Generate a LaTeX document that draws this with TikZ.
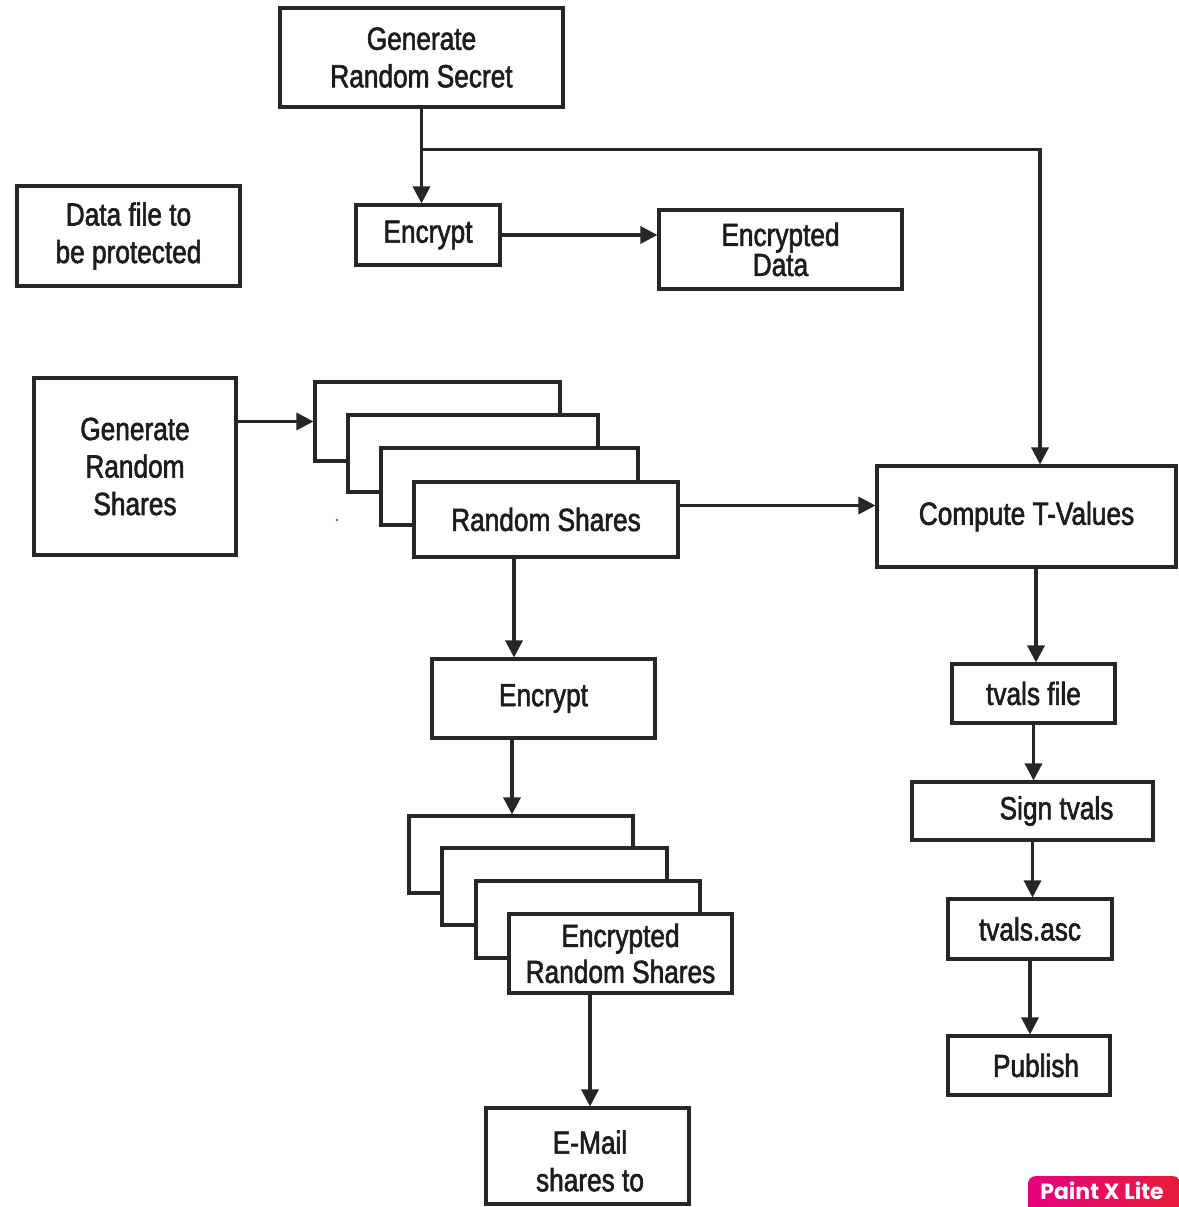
\documentclass[tikz,border=0pt]{standalone}
\usepackage{fontspec}
\setmainfont{Liberation Sans}[FakeStretch=0.82, FakeBold=1.8]
\newfontfamily\wmfont{Poppins}
\usetikzlibrary{arrows.meta}
\definecolor{ink}{HTML}{262626}
\definecolor{txt}{HTML}{1C1C1C}
\definecolor{wmA}{HTML}{E6007E}
\definecolor{wmB}{HTML}{EA1B3A}
\begin{document}
\begin{tikzpicture}[x=1pt, y=-1pt,
  box/.style={draw=ink, line width=3.1pt, fill=white, rectangle, inner sep=0pt,
    text=txt, align=center, font=\fontsize{32}{37.5}\selectfont},
  label text/.style={text=txt, align=center, inner sep=0pt, font=\fontsize{32}{37.5}\selectfont},
  arr/.style={draw=ink, line width=3.2pt, -{Triangle[length=17pt, width=17pt]}},
]
\useasboundingbox (0,0) rectangle (1178,1207);

% top row
\node[box, minimum width=283pt, minimum height=99pt] (gsec) at (421.5,57.5) {Generate\\Random Secret};
\node[box, minimum width=223pt, minimum height=100pt] (data) at (128.5,236) {Data file to\\be protected};
\node[box, minimum width=144pt, minimum height=60pt] (enc1) at (428,235) {Encrypt};
\node[box, minimum width=243pt, minimum height=79pt, font=\fontsize{32}{30}\selectfont] (encd) at (780.5,249.5) {Encrypted\\Data};

% share generation and stacked shares
\node[box, minimum width=202pt, minimum height=177pt] (gshr) at (135,466.5) {Generate\\Random\\Shares};
\node[box, minimum width=245pt, minimum height=79pt] (r1) at (437.5,421.5) {};
\node[box, minimum width=250pt, minimum height=77pt] (r2) at (473,453.5) {};
\node[box, minimum width=257pt, minimum height=77pt] (r3) at (509.5,486.5) {};
\node[box, minimum width=264pt, minimum height=75pt] (r4) at (546,519.5) {Random Shares};

\node[box, minimum width=299pt, minimum height=101pt] (ctv) at (1026.5,516.5) {Compute T-Values};

% encryption of the shares
\node[box, minimum width=223pt, minimum height=79pt] (enc2) at (543.5,698.5) {Encrypt};
\node[box, minimum width=224pt, minimum height=77pt] (s1) at (521,854.5) {};
\node[box, minimum width=225pt, minimum height=77pt] (s2) at (554.5,886.5) {};
\node[box, minimum width=224pt, minimum height=77pt] (s3) at (588,919.5) {};
\node[box, minimum width=223pt, minimum height=79pt, font=\fontsize{32}{36}\selectfont] (s4) at (620.5,953.5) {Encrypted\\Random Shares};
\node[box, minimum width=203pt, minimum height=96pt] (email) at (587.5,1156) {};
\node[label text] (emailtxt) at (590,1161) {E-Mail\\shares to};

% t-values column
\node[box, minimum width=163pt, minimum height=59pt] (tvf) at (1033.5,693.5) {tvals file};
\node[box, minimum width=241pt, minimum height=58pt] (sign) at (1032.5,811) {\hspace*{48pt}Sign tvals};
\node[box, minimum width=164pt, minimum height=60pt] (asc) at (1030,929) {tvals.asc};
\node[box, minimum width=162pt, minimum height=59pt] (pub) at (1029,1065.5) {\hspace*{14pt}Publish};

% connectors
\draw[arr] (gsec.south) -- (gsec.south |- enc1.north);
\coordinate (br) at ([yshift=-41pt]gsec.south);
\coordinate (ctvin) at ([xshift=13.5pt]ctv.north);
\draw[arr] (br) -| (ctvin);
\draw[arr] (enc1.east) -- (enc1.east -| encd.west);
\draw[arr] (gshr.east |- r1.west) -- (r1.west);
\coordinate (rsout) at ([yshift=14pt]r4.east);
\draw[arr] (rsout) -- (rsout -| ctv.west);
\coordinate (rsdown) at ([xshift=-32pt]r4.south);
\draw[arr] (rsdown) -- (rsdown |- enc2.north);
\coordinate (e2down) at ([xshift=-31.5pt]enc2.south);
\draw[arr] (e2down) -- (e2down |- s1.north);
\coordinate (s4down) at ([xshift=-30.5pt]s4.south);
\draw[arr] (s4down) -- (s4down |- email.north);
\coordinate (ctvdown) at ([xshift=9.5pt]ctv.south);
\draw[arr] (ctvdown) -- (ctvdown |- tvf.north);
\draw[arr] (tvf.south) -- (tvf.south |- sign.north);
\draw[arr] (sign.south) -- (sign.south |- asc.north);
\draw[arr] (asc.south) -- (asc.south |- pub.north);

% stray speck near the shares
\fill[ink!70] (337,520) circle (1.4pt);

% badge in the corner
\node[rounded corners=7pt, left color=wmA, right color=wmB, minimum width=152pt, minimum height=40pt,
  anchor=north west, inner sep=0pt] (badge) at (1028,1176) {};
\node[text=white, font=\wmfont\bfseries\fontsize{22}{22}\selectfont, inner sep=0pt, anchor=base] (badgetxt) at (1102,1199) {Paint X Lite};
\end{tikzpicture}
\end{document}
